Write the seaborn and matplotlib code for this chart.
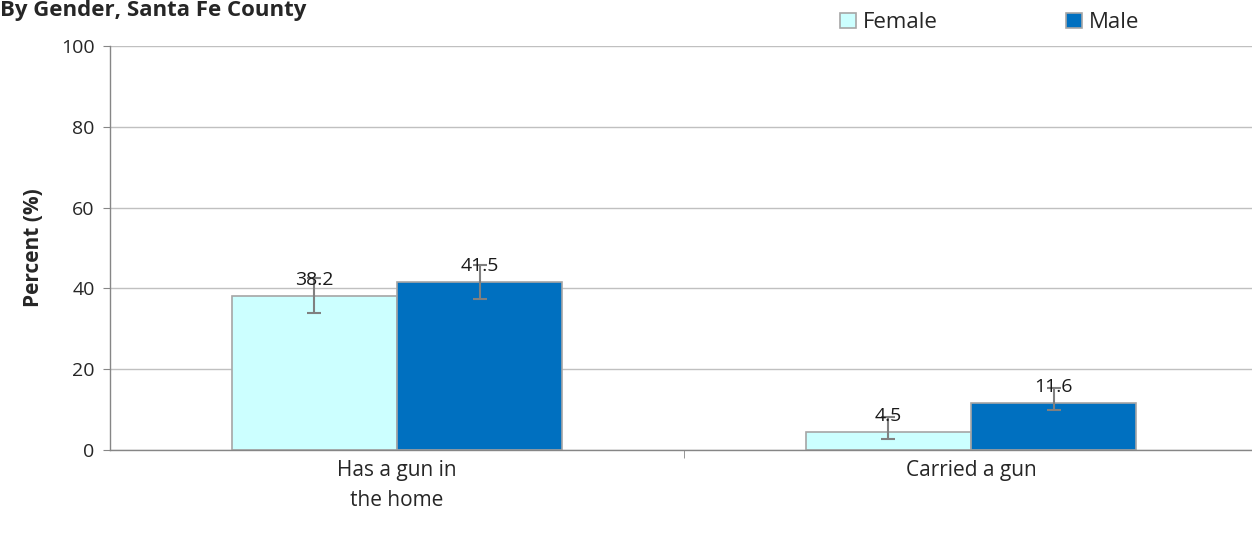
"""
Gun access by gender, Santa Fe County - grouped bar chart
"""

import numpy as np
import pandas as pd
import matplotlib
matplotlib.use("Agg")
import matplotlib.pyplot as plt
import seaborn as sns

# data
categories = ["Has a gun in\nthe home", "Carried a gun"]
genders = ["Female", "Male"]
female_vals = [38.2, 4.5]
male_vals = [41.5, 11.6]
female_lo = [34.0, 2.7]
female_hi = [42.5, 8.2]
male_lo = [37.3, 9.9]
male_hi = [45.8, 15.3]

df = pd.DataFrame({
    "category": categories * 2,
    "gender": ["Female"] * 2 + ["Male"] * 2,
    "value": female_vals + male_vals,
    "lo": female_lo + male_lo,
    "hi": female_hi + male_hi,
})

sns.set_style("white")
plt.rcParams["font.family"] = ["Open Sans", "DejaVu Sans"]

fig = plt.figure(figsize=(12.52, 5.35), dpi=100)
ax = fig.add_axes([110 / 1252, 85 / 535, 1148 / 1252, 404 / 535])

palette = {"Female": "#ccffff", "Male": "#0070c0"}
sns.barplot(data=df, x="category", y="value", hue="gender", hue_order=genders,
            order=categories, palette=palette, width=0.575, errorbar=None,
            edgecolor="#a6a6a6", linewidth=1.2, saturation=1, ax=ax, zorder=2)

# error bars and value labels, per hue container
for cont, g in zip(ax.containers, genders):
    sub = df[df["gender"] == g].set_index("category").loc[categories]
    xs = [p.get_x() + p.get_width() / 2 for p in cont.patches]
    yerr = np.vstack([sub["value"] - sub["lo"], sub["hi"] - sub["value"]])
    ax.errorbar(xs, sub["value"], yerr=yerr, fmt="none", ecolor="#808080",
                elinewidth=1.5, capsize=5, capthick=1.5, zorder=3)
    ax.bar_label(cont, labels=[f"{v:.1f}" for v in sub["value"]], padding=5,
                 fontsize=14, color="#1a1a1a", zorder=4)

ax.set_ylim(0, 100)
ax.set_xlim(-0.5, 1.5)
ax.set_yticks(range(0, 101, 20))
ax.yaxis.grid(True, color="#c0c0c0", linewidth=1)
ax.set_axisbelow(True)
ax.set_xlabel("")
ax.set_ylabel("Percent (%)", fontsize=15, fontweight="bold", labelpad=12)
ax.tick_params(axis="y", labelsize=14, length=5, color="#868686", pad=6, left=True)
ax.tick_params(axis="x", labelsize=15, length=0, pad=7)
for t in ax.get_xticklabels():
    t.set_linespacing(1.55)
ax.set_xticks([0.5], minor=True)
ax.tick_params(axis="x", which="minor", length=6, color="#868686", bottom=True)
for s in ["top", "right"]:
    ax.spines[s].set_visible(False)
for s in ["left", "bottom"]:
    ax.spines[s].set_color("#868686")
    ax.spines[s].set_linewidth(1)

leg = ax.legend(loc="upper left", bbox_to_anchor=(828 / 1252, 1.0), bbox_transform=fig.transFigure,
                ncol=2, frameon=False, fontsize=16, handlelength=0.7, handleheight=0.7,
                columnspacing=5.8, handletextpad=0.3, borderaxespad=0.15)
for h in leg.legend_handles:
    h.set_edgecolor("#a6a6a6")

fig.text(0.0, 1.0, "By Gender, Santa Fe County", fontsize=16,
         fontweight="bold", ha="left", va="top")

fig.savefig("out.png", dpi=100)
